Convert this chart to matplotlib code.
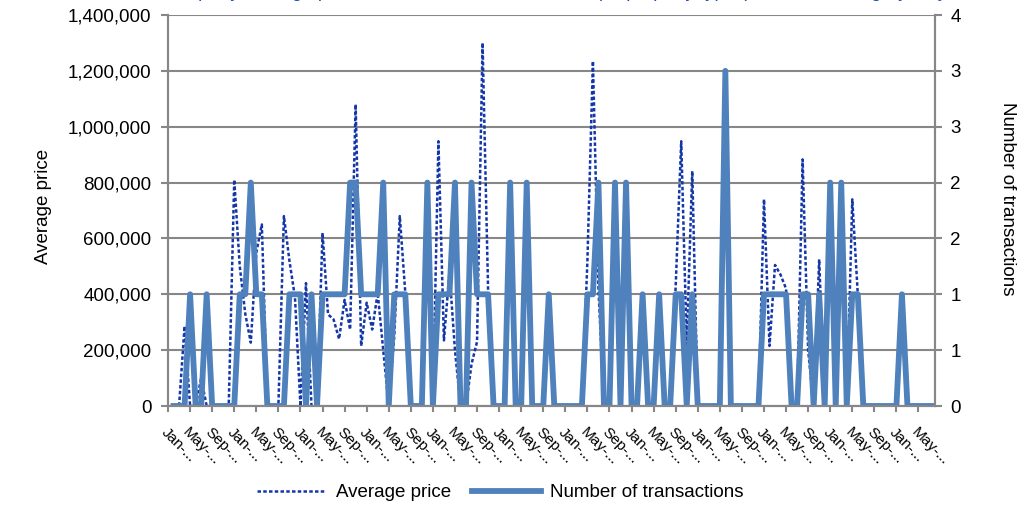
import numpy as np
import matplotlib.pyplot as plt
from matplotlib.ticker import FuncFormatter

plt.rcParams['font.family'] = ['Liberation Sans', 'DejaVu Sans']

nan = np.nan

# month labels shown every 4th month
month_names = ['Jan', 'May', 'Sep']

# number of transactions per month (right axis)
transactions = [
    nan, 0, 0, 0, 1, 0, 0, 1, 0, 0,
    0, 0, 0, 1, 1, 2, 1, 1, 0, 0,
    0, 0, 1, 1, 1, 0, 1, 0, 1, 1,
    1, 1, 1, 2, 2, 1, 1, 1, 1, 2,
    0, 1, 1, 1, 0, 0, 0, 2, 0, 1,
    1, 1, 2, 0, 0, 2, 1, 1, 1, 0,
    0, 0, 2, 0, 0, 2, 0, 0, 0, 1,
    0, 0, 0, 0, 0, 0, 1, 1, 2, 0,
    0, 2, 0, 2, 0, 0, 1, 0, 0, 1,
    0, 0, 1, 1, 0, 1, 0, 0, 0, 0,
    0, 3, 0, 0, 0, 0, 0, 0, 1, 1,
    1, 1, 1, 0, 0, 1, 1, 0, 1, 0,
    2, 0, 2, 0, 1, 1, 0, 0, 0, 0,
    0, 0, 0, 1, 0, 0, 0, 0, 0, 0,
]

# average price per month (left axis)
avg_price = [
    nan, 0, 0, 286000, 0, 0, 100000, 0, 0, 0,
    0, 0, 810000, 500000, 330000, 227000, 550000, 650000, 0, 0,
    0, 680000, 520000, 390000, 0, 440000, 0, 0, 620000, 328000,
    310000, 240000, 380000, 274000, 1080000, 215000, 370000, 274000, 405000, 200000,
    0, 250000, 680000, 405000, 0, 0, 0, 800000, 0, 948000,
    235000, 480000, 200000, 0, 0, 150000, 230000, 1300000, 418000, 0,
    0, 0, 800000, 0, 0, 800000, 0, 0, 0, 400000,
    0, 0, 0, 0, 0, 0, 520000, 1235000, 420000, 0,
    0, 800000, 0, 800000, 0, 0, 400000, 0, 0, 400000,
    0, 0, 430000, 948000, 220000, 841000, 0, 0, 0, 0,
    0, 1200000, 0, 0, 0, 0, 0, 0, 740000, 215000,
    505000, 470000, 420000, 0, 0, 883000, 200000, 0, 525000, 0,
    800000, 0, 800000, 0, 740000, 400000, 0, 0, 0, 0,
    0, 0, 0, 400000, 0, 0, 0, 0, 0, 0,
]

grey = '#878787'
x = np.arange(len(avg_price))

fig = plt.figure(figsize=(10.34, 5.07), dpi=100)
ax = fig.add_axes([0.1625, 0.1992, 0.7418, 0.7712])
ax2 = ax.twinx()

ax.plot(x, avg_price, color='#1436A8', lw=1.8, linestyle=(0, (1.4, 0.9)),
        label='Average price')
ax2.plot(x, transactions, color='#4F81BD', lw=4.2, solid_joinstyle='round',
         label='Number of transactions')

ax.set_xlim(0, 139)
ax.set_ylim(0, 1400000)
ax2.set_ylim(0, 3.5)

ax.set_yticks(range(0, 1400001, 200000))
ax.yaxis.set_major_formatter(FuncFormatter(lambda v, p: f'{v:,.0f}'))
ax2.set_yticks(np.arange(0, 3.51, 0.5))
ax2.yaxis.set_major_formatter(FuncFormatter(lambda v, p: str(int(np.floor(v + 0.5)))))

ticks = list(range(0, 139, 4))
ax.set_xticks(ticks)
ax.set_xticklabels([month_names[i % 3] + '-...' for i in range(len(ticks))],
                   fontsize=11, rotation=-45, ha='left', va='top',
                   rotation_mode='anchor')

ax.grid(axis='y', color=grey, lw=1.5)
ax.set_axisbelow(True)
for a in (ax, ax2):
    for s in a.spines.values():
        s.set_color(grey)
        s.set_linewidth(1.5)
    a.spines['top'].set_visible(False)

ax.tick_params(axis='y', length=5, width=1.5, color=grey, labelsize=13.5, pad=7)
ax.tick_params(axis='x', length=4, width=1.5, color=grey, pad=10)
ax2.tick_params(axis='y', length=5, width=1.5, color=grey, labelsize=13.5, pad=6)

ax.set_ylabel('Average price', fontsize=13.5, ha='center', va='center')
ax.yaxis.set_label_coords(-0.163, 0.51)
ax2.set_ylabel('Number of transactions', fontsize=13.5, rotation=270,
               ha='center', va='center')
ax2.yaxis.set_label_coords(1.095, 0.53)

# title sits above the top edge in the original, only its descenders show
fig.text(0.54, 1.0065, 'Property average price and number of transactions '
         '(all property types), selected category only',
         color='#1F4FB4', fontsize=13.5, ha='center', va='baseline')

h1, l1 = ax.get_legend_handles_labels()
h2, l2 = ax2.get_legend_handles_labels()
fig.legend(h1 + h2, l1 + l2, loc='center', bbox_to_anchor=(0.484, 0.028),
           ncol=2, frameon=False, fontsize=13.5, handlelength=3.7,
           handletextpad=0.5, columnspacing=1.1)

fig.savefig('out.png', dpi=100)
